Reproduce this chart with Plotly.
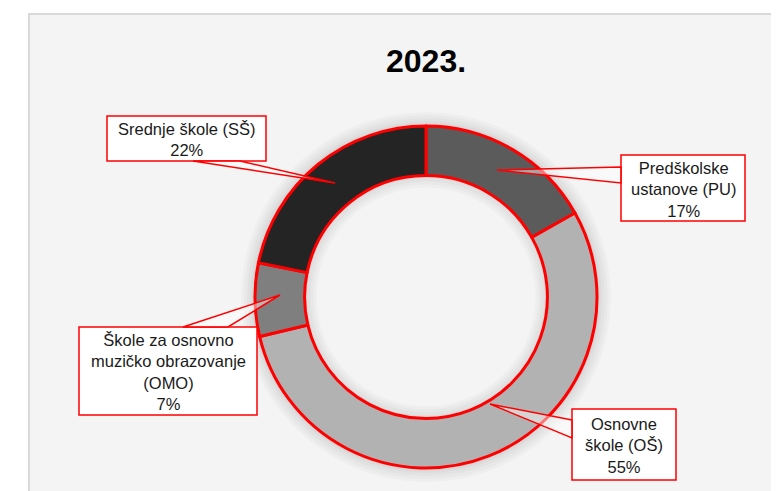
import plotly.graph_objects as go

title_text = "2023."
categories = ["Predškolske ustanove (PU)", "Osnovne škole (OŠ)",
              "Škole za osnovno muzičko obrazovanje (OMO)", "Srednje škole (SŠ)"]
box_labels = ["Predškolske<br>ustanove (PU)", "Osnovne<br>škole (OŠ)",
              "Škole za osnovno<br>muzičko obrazovanje<br>(OMO)", "Srednje škole (SŠ)"]
shares = [17, 55, 7, 22]
slice_colors = ["#5b5b5b", "#b2b2b2", "#7f7f7f", "#242424"]

# window 779x491; browser body margin of 8px -> figure is 771x483
OFF = 8
W, H = 779 - OFF, 491 - OFF


def px(x):
    return (x - OFF) / W


def py(y):
    return 1 - (y - OFF) / H


# ring geometry (window pixels)
CX, CY, R_OUT = 426, 297, 171
HOLE = 0.71
R_IN = R_OUT * HOLE


def dom(r):
    return dict(x=[px(CX - r), px(CX + r)], y=[py(CY + r), py(CY - r)])


fig = go.Figure()

# soft shadow around the ring (decoration)
for k in [14, 11, 8, 5, 3]:
    fig.add_trace(go.Pie(values=[1], labels=["s"], hole=(R_OUT - 4) / (R_OUT + k),
                         sort=False, textinfo="none", hoverinfo="skip",
                         marker=dict(colors=["rgba(0,0,0,0.025)"], line=dict(width=0)),
                         domain=dom(R_OUT + k), showlegend=False))
for k in [12, 9, 6, 3]:
    fig.add_trace(go.Pie(values=[1], labels=["s"], hole=(R_IN - k) / (R_IN + 4),
                         sort=False, textinfo="none", hoverinfo="skip",
                         marker=dict(colors=["rgba(0,0,0,0.025)"], line=dict(width=0)),
                         domain=dom(R_IN + 4), showlegend=False))

fig.add_trace(go.Pie(
    labels=categories, values=shares, sort=False, direction="clockwise", rotation=0,
    hole=HOLE, textinfo="none", hoverinfo="label+percent",
    marker=dict(colors=slice_colors, line=dict(color="#ff0000", width=3)),
    domain=dom(R_OUT), showlegend=False,
))

# callout boxes: (x0, y0, x1, y1) and pointer (base1, tip, base2) in window pixels
boxes = [
    (621, 155, 745, 221),
    (572, 409, 676, 480),
    (79, 327, 257, 415),
    (107, 116, 266, 161),
]
pointers = [
    ((621, 167), (497, 170), (621, 183)),
    ((572, 420), (490, 404), (572, 438)),
    ((183, 327), (280, 295), (228, 327)),
    ((193, 161), (335, 183), (240, 161)),
]

shapes = [dict(type="rect", xref="paper", yref="paper", x0=px(29), x1=1.02,
               y0=-0.02, y1=py(14), fillcolor="#f4f4f4",
               line=dict(color="#d9d9d9", width=2), layer="below")]

for lab, val, (x0, y0, x1, y1), (b1, tip, b2) in zip(box_labels, shares, boxes, pointers):
    shapes.append(dict(type="rect", xref="paper", yref="paper",
                       x0=px(x0), x1=px(x1), y0=py(y1), y1=py(y0),
                       fillcolor="#ffffff", line=dict(color="#ff0000", width=1.5),
                       layer="above"))
    shapes.append(dict(type="path", xref="paper", yref="paper",
                       path=f"M {px(b1[0])} {py(b1[1])} L {px(tip[0])} {py(tip[1])} "
                            f"L {px(b2[0])} {py(b2[1])} Z",
                       fillcolor="rgba(255,255,255,0.45)",
                       line=dict(color="#ff0000", width=1.5), layer="above"))
    fig.add_annotation(
        x=px((x0 + x1) / 2), y=py((y0 + y1) / 2 + 1), xref="paper", yref="paper",
        xanchor="center", yanchor="middle", showarrow=False,
        text=f"{lab}<br>{val}%", align="center",
        font=dict(family="Liberation Sans, Arial", size=16.5, color="#1a1a1a"),
    )

fig.add_annotation(
    x=px(426), y=py(61), xref="paper", yref="paper", showarrow=False,
    xanchor="center", yanchor="middle",
    text=f"<b>{title_text}</b>",
    font=dict(family="Liberation Sans, Arial", size=32, color="#000000"),
)

fig.update_layout(
    width=W, height=H, margin=dict(l=0, r=0, t=0, b=0),
    paper_bgcolor="#ffffff", plot_bgcolor="#ffffff",
    shapes=shapes,
)

fig.write_html("out.html")
